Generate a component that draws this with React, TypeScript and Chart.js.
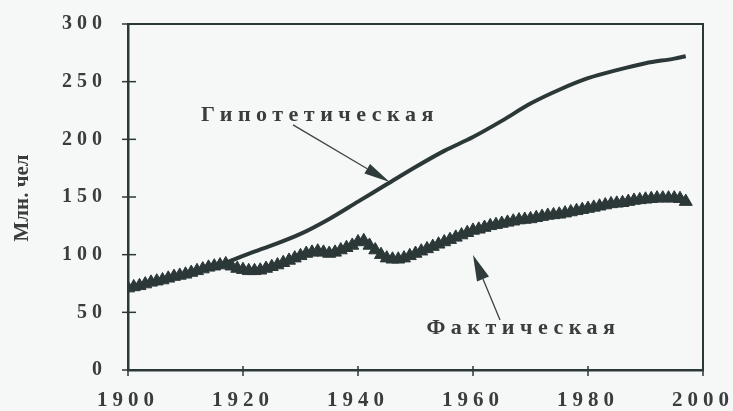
import React, { useEffect, useRef } from "react";
import { Chart, registerables } from "chart.js";

Chart.register(...registerables);

// ---- data ----
const actualYears = [
  1900, 1901, 1902, 1903, 1904, 1905, 1906, 1907, 1908, 1909,
  1910, 1911, 1912, 1913, 1914, 1915, 1916, 1917, 1918, 1919,
  1920, 1921, 1922, 1923, 1924, 1925, 1926, 1927, 1928, 1929,
  1930, 1931, 1932, 1933, 1934, 1935, 1936, 1937, 1938, 1939,
  1940, 1941, 1942, 1943, 1944, 1945, 1946, 1947, 1948, 1949,
  1950, 1951, 1952, 1953, 1954, 1955, 1956, 1957, 1958, 1959,
  1960, 1961, 1962, 1963, 1964, 1965, 1966, 1967, 1968, 1969,
  1970, 1971, 1972, 1973, 1974, 1975, 1976, 1977, 1978, 1979,
  1980, 1981, 1982, 1983, 1984, 1985, 1986, 1987, 1988, 1989,
  1990, 1991, 1992, 1993, 1994, 1995, 1996, 1997,
];
const actualValues = [
  71, 72, 73, 74.5, 76, 77, 78, 79.5, 81, 82,
  83, 84.5, 86, 87.5, 89, 90, 91, 92, 90, 88,
  87, 86, 86, 86.5, 88, 89.5, 91, 93, 95, 97,
  99, 101, 102, 103, 102, 101, 102, 104, 106, 108,
  111, 112, 108, 104, 100, 97, 96, 96, 97, 99,
  101, 103, 105, 107, 109, 111, 113, 115, 117, 119,
  121, 122, 123.5, 125, 126, 127, 128, 129, 130, 130.5,
  131, 132, 133, 134, 134.5, 135, 136, 137, 138, 139,
  140, 141, 142, 143, 144, 144.5, 145, 146, 147, 147.5,
  148, 148.5, 149, 149, 149, 149, 148.5, 146,
];
const hypoYears = [
  1900, 1905, 1910, 1915, 1917, 1920, 1925, 1930, 1935, 1940, 1945,
  1950, 1955, 1960, 1965, 1970, 1975, 1980, 1985, 1990, 1995, 1997,
];
const hypoValues = [
  71, 77, 83, 90, 93, 99, 108, 118, 131, 146, 161,
  176, 190, 202, 216, 231, 243, 253, 260, 266, 270, 272,
];
const xTicks = [1900, 1920, 1940, 1960, 1980, 2000];
const yTicks = [0, 50, 100, 150, 200, 250, 300];
const yTitle = "Млн. чел";
const hypoLabel = "Гипотетическая";
const actualLabel = "Фактическая";
// annotation anchors in data coordinates: [textYear, textValue, tailYear, tailValue, tipYear, tipValue]
const hypoNote = [1932.9, 221, 1928.7, 212.5, 1945.5, 163];
const actualNote = [1968.3, 36.4, 1964.7, 43.4, 1960, 99.7];

const INK = "#2c3838";
const TEXT = "#3a3d3d";
const SERIF = '"Liberation Serif", "DejaVu Serif", serif';
const LS = "5px";

function drawArrow(ctx: CanvasRenderingContext2D, x1: number, y1: number, x2: number, y2: number, len: number, w: number) {
  const a = Math.atan2(y2 - y1, x2 - x1);
  const bx = x2 - Math.cos(a) * len;
  const by = y2 - Math.sin(a) * len;
  ctx.beginPath();
  ctx.moveTo(x1, y1);
  ctx.lineTo(bx, by);
  ctx.lineWidth = 1.3;
  ctx.stroke();
  ctx.beginPath();
  ctx.moveTo(x2, y2);
  ctx.lineTo(bx + Math.sin(a) * w / 2, by - Math.cos(a) * w / 2);
  ctx.lineTo(bx - Math.sin(a) * w / 2, by + Math.cos(a) * w / 2);
  ctx.closePath();
  ctx.fill();
}

const overlay = {
  id: "overlay",
  beforeDraw(chart: any) {
    const ctx = chart.ctx as CanvasRenderingContext2D;
    ctx.save();
    ctx.fillStyle = "#f6f8f7";
    ctx.fillRect(0, 0, chart.width, chart.height);
    ctx.restore();
    (ctx as any).letterSpacing = LS;
  },
  afterDraw(chart: any) {
    const ctx = chart.ctx as CanvasRenderingContext2D;
    const a = chart.chartArea;
    const xs = chart.scales.x;
    const ys = chart.scales.y;
    ctx.save();
    (ctx as any).letterSpacing = "0px";
    ctx.strokeStyle = INK;
    ctx.fillStyle = INK;
    // frame top/right
    ctx.lineWidth = 2;
    ctx.beginPath();
    ctx.moveTo(a.left, a.top);
    ctx.lineTo(a.right, a.top);
    ctx.lineTo(a.right, a.bottom);
    ctx.stroke();
    // crossing ticks
    ctx.lineWidth = 1.5;
    ys.ticks.forEach((t: any) => {
      const y = ys.getPixelForValue(t.value);
      ctx.beginPath();
      ctx.moveTo(a.left - 6, y);
      ctx.lineTo(a.left + 8, y);
      ctx.stroke();
    });
    xs.ticks.forEach((t: any) => {
      const x = xs.getPixelForValue(t.value);
      ctx.beginPath();
      ctx.moveTo(x, a.bottom - 4);
      ctx.lineTo(x, a.bottom + 6);
      ctx.stroke();
    });
    // arrows
    ctx.strokeStyle = "#3a4444";
    ctx.fillStyle = "#2f3a3a";
    drawArrow(ctx,
      xs.getPixelForValue(hypoNote[2]), ys.getPixelForValue(hypoNote[3]),
      xs.getPixelForValue(hypoNote[4]), ys.getPixelForValue(hypoNote[5]), 26, 11);
    drawArrow(ctx,
      xs.getPixelForValue(actualNote[2]), ys.getPixelForValue(actualNote[3]),
      xs.getPixelForValue(actualNote[4]), ys.getPixelForValue(actualNote[5]), 26, 13);
    // annotation texts
    (ctx as any).letterSpacing = "5.5px";
    ctx.font = `bold 22px ${SERIF}`;
    ctx.fillStyle = TEXT;
    ctx.textAlign = "center";
    ctx.textBaseline = "middle";
    ctx.fillText(hypoLabel, xs.getPixelForValue(hypoNote[0]) + 2.75, ys.getPixelForValue(hypoNote[1]));
    ctx.fillText(actualLabel, xs.getPixelForValue(actualNote[0]) + 2.75, ys.getPixelForValue(actualNote[1]));
    // y title
    (ctx as any).letterSpacing = "0px";
    ctx.font = `bold 21px ${SERIF}`;
    ctx.translate(23, (a.top + a.bottom) / 2 + 1);
    ctx.rotate(-Math.PI / 2);
    ctx.fillText(yTitle, 0, 0);
    ctx.restore();
  },
};

export default function App() {
  const ref = useRef<HTMLCanvasElement>(null);
  useEffect(() => {
    if (!ref.current) return;
    const chart = new Chart(ref.current, {
      type: "line",
      data: {
        datasets: [
          {
            label: actualLabel,
            data: actualYears.map((y, i) => ({ x: y, y: actualValues[i] })),
            borderColor: INK,
            backgroundColor: INK,
            borderWidth: 4,
            pointStyle: "triangle",
            pointRadius: 7.5,
            pointBackgroundColor: INK,
            pointBorderColor: INK,
            pointBorderWidth: 1,
            tension: 0,
          },
          {
            label: hypoLabel,
            data: hypoYears.map((y, i) => ({ x: y, y: hypoValues[i] })),
            borderColor: INK,
            borderWidth: 4,
            pointRadius: 0,
            cubicInterpolationMode: "monotone",
          },
        ],
      },
      options: {
        animation: false,
        responsive: false,
        layout: { padding: { top: 24, right: 30, left: 0, bottom: 0 } },
        plugins: { legend: { display: false }, tooltip: { enabled: false } },
        scales: {
          x: {
            type: "linear",
            min: 1900,
            max: 2000,
            afterBuildTicks: (s: any) => { s.ticks = xTicks.map((v) => ({ value: v })); },
            afterFit: (s: any) => { s.height = 41; s.paddingLeft = 0; s.paddingRight = 0; },
            grid: { display: true, drawOnChartArea: false, drawTicks: false },
            border: { display: true, color: INK, width: 2.5 },
            ticks: {
              autoSkip: false,
              maxRotation: 0,
              padding: 18,
              color: TEXT,
              font: { family: SERIF, size: 21, weight: "bold" },
              callback: (v: any) => String(v),
            },
          },
          y: {
            min: 0,
            max: 300,
            afterBuildTicks: (s: any) => { s.ticks = yTicks.map((v) => ({ value: v })); },
            afterFit: (s: any) => { s.width = 128; s.paddingTop = 0; s.paddingBottom = 0; },
            grid: { display: true, drawOnChartArea: false, drawTicks: false },
            border: { display: true, color: INK, width: 2.5 },
            ticks: {
              padding: 21,
              color: TEXT,
              font: { family: SERIF, size: 20, weight: "bold" },
              callback: (v: any) => String(v),
            },
          },
        },
      },
      plugins: [overlay],
    } as any);
    return () => chart.destroy();
  }, []);
  return (
    <div style={{ position: "absolute", left: 0, top: 0, width: 733, height: 411 }}>
      <canvas ref={ref} width={733} height={411} style={{ display: "block" }} />
    </div>
  );
}
